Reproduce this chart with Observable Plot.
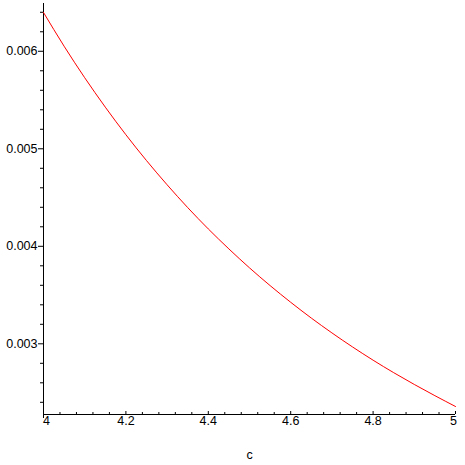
<!DOCTYPE html>
<html><head><meta charset="utf-8">
<script src="https://cdn.jsdelivr.net/npm/d3@7"></script>
<script src="https://cdn.jsdelivr.net/npm/@observablehq/plot@0.6"></script>
<style>
  html,body{margin:0;padding:0;background:#fff;}
  #chart svg{display:block;}
</style>
</head><body><div id="chart"></div>
<script>
// Curve values
const cValues = [4.00, 4.05, 4.10, 4.15, 4.20, 4.25, 4.30, 4.35, 4.40, 4.45, 4.50,
                 4.55, 4.60, 4.65, 4.70, 4.75, 4.80, 4.85, 4.90, 4.95, 5.00];
const fValues = [0.006398, 0.006052, 0.005729, 0.005427, 0.005144, 0.004879, 0.004631,
                 0.004397, 0.004178, 0.003973, 0.003779, 0.003597, 0.003426, 0.003264,
                 0.003112, 0.002968, 0.002832, 0.002704, 0.002583, 0.002468, 0.002357];

// Axes
const xDomain = [4, 5];
const yDomain = [0.002275, 0.00649];
const xTicks = [4, 4.2, 4.4, 4.6, 4.8, 5];
const xTickLabels = ["4", "4.2", "4.4", "4.6", "4.8", "5"];
const xMinorTicks = [4.04, 4.08, 4.12, 4.16, 4.24, 4.28, 4.32, 4.36, 4.44, 4.48, 4.52, 4.56,
                     4.64, 4.68, 4.72, 4.76, 4.84, 4.88, 4.92, 4.96];
const yTicks = [0.003, 0.004, 0.005, 0.006];
const yTickLabels = ["0.003", "0.004", "0.005", "0.006"];
const yMinorTicks = [0.0024, 0.0026, 0.0028, 0.0032, 0.0034, 0.0036, 0.0038, 0.0042, 0.0044,
                     0.0046, 0.0048, 0.0052, 0.0054, 0.0056, 0.0058, 0.0062, 0.0064];
const xLabel = "c";

const data = cValues.map((c, i) => ({c, f: fValues[i]}));
const xMid = xTicks.map((t, i) => ({t, label: xTickLabels[i]})).slice(1, -1);
const xFirst = [{t: xTicks[0], label: xTickLabels[0]}];
const xLast = [{t: xTicks[xTicks.length - 1], label: xTickLabels[xTickLabels.length - 1]}];

const chart = Plot.plot({
  width: 465,
  height: 465,
  marginLeft: 43,
  marginRight: 10,
  marginTop: 3,
  marginBottom: 51,
  style: {fontFamily: "'Liberation Sans', Arial, sans-serif", fontSize: "12.5px", background: "#fff", color: "#000"},
  x: {domain: xDomain, axis: null},
  y: {domain: yDomain, axis: null},
  marks: [
    // y axis: major ticks with labels, minor ticks
    Plot.axisY(yTicks, {tickSize: 5, tickPadding: 1, label: null, tickFormat: (d, i) => yTickLabels[yTicks.indexOf(d)], stroke: "#000", fill: "#000"}),
    Plot.axisY(yMinorTicks, {tickSize: 3, label: null, tickFormat: () => "", stroke: "#000"}),
    // axis lines
    Plot.ruleX([xDomain[0]], {stroke: "#000", strokeWidth: 1, insetBottom: -4}),
    Plot.ruleY([yDomain[0]], {stroke: "#000", strokeWidth: 1}),
    // x ticks pointing inward
    Plot.ruleX(xTicks, {stroke: "#000", insetTop: 408}),
    Plot.ruleX(xMinorTicks, {stroke: "#000", insetTop: 409}),
    // x tick labels
    Plot.text(xMid, {x: "t", text: "label", frameAnchor: "bottom", dy: 10, fill: "#000"}),
    Plot.text(xFirst, {x: "t", text: "label", frameAnchor: "bottom", dy: 10, dx: 3, fill: "#000"}),
    Plot.text(xLast, {x: "t", text: "label", frameAnchor: "bottom", dy: 10, dx: -2, fill: "#000"}),
    // x axis title
    Plot.text([xLabel], {x: (xDomain[0] + xDomain[1]) / 2, text: d => d, frameAnchor: "bottom", dy: 44, fill: "#000"}),
    // curve
    Plot.line(data, {x: "c", y: "f", stroke: "#ff0000", strokeWidth: 1, curve: "monotone-x"})
  ]
});
document.getElementById("chart").appendChild(chart);
</script>
</body></html>
